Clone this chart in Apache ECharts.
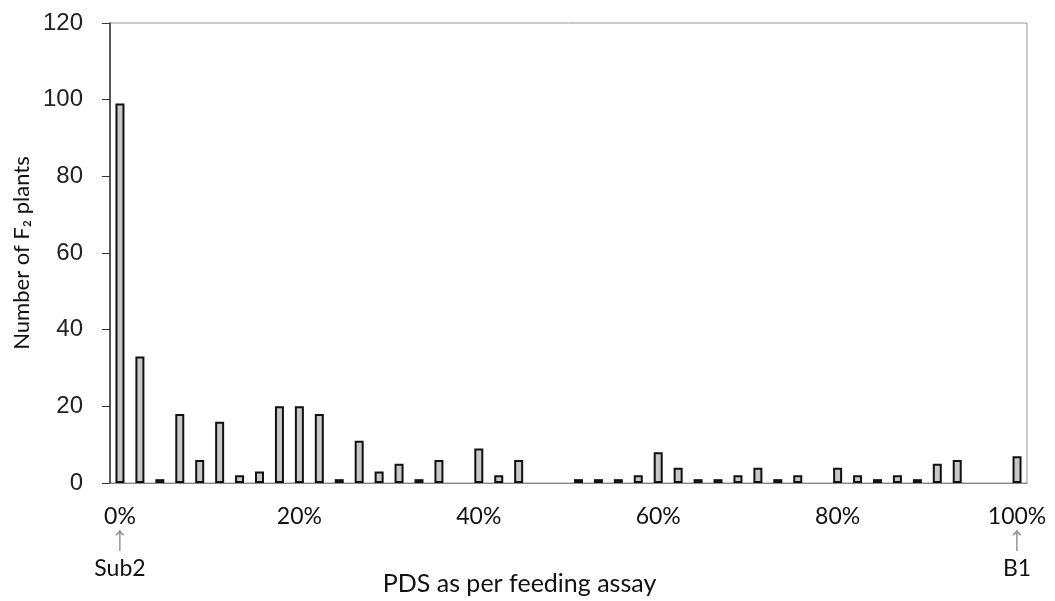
<!DOCTYPE html>
<html>
<head>
<meta charset="utf-8">
<script src="https://cdn.jsdelivr.net/npm/echarts@6/dist/echarts.min.js"></script>
<style>
  html, body { margin: 0; padding: 0; background: #fff; }
  #chart { width: 1055px; height: 601px; }
</style>
</head>
<body>
<div id="chart"></div>
<script>
// PDS (%) bins, one every 100/45 %
const categories = [0, 2.2, 4.4, 6.7, 8.9, 11.1, 13.3, 15.6, 17.8, 20, 22.2, 24.4, 26.7, 28.9, 31.1, 33.3,
  35.6, 37.8, 40, 42.2, 44.4, 46.7, 48.9, 51.1, 53.3, 55.6, 57.8, 60, 62.2, 64.4, 66.7, 68.9, 71.1, 73.3,
  75.6, 77.8, 80, 82.2, 84.4, 86.7, 88.9, 91.1, 93.3, 95.6, 97.8, 100];

// number of F2 plants per bin
const plants = [99, 33, 1, 18, 6, 16, 2, 3, 20, 20, 18, 1, 11, 3, 5, 1, 6, 0, 9, 2, 6, 0, 0, 1, 1, 1, 2, 8,
  4, 1, 1, 2, 4, 1, 2, 0, 4, 2, 1, 2, 1, 5, 6, 0, 0, 7];

// parents marked under the end ticks
const parents = { 0: 'Sub2', 45: 'B1' };

const yTicks = { min: 0, max: 120, interval: 20 };

const chart = echarts.init(document.getElementById('chart'));

chart.setOption({
  animation: false,
  grid: {
    left: 110,
    right: 28,
    top: 23,
    bottom: 118,
    outerBoundsMode: 'none',
    containLabel: false,
    show: true,
    borderColor: '#999',
    borderWidth: 1
  },
  xAxis: {
    type: 'category',
    data: categories,
    boundaryGap: true,
    name: 'PDS as per feeding assay',
    nameLocation: 'middle',
    nameGap: 88,
    nameMoveOverlap: false,
    nameTextStyle: { fontFamily: 'Lato', fontSize: 25, color: '#111', padding: [0, 98, 0, 0] },
    axisLine: { lineStyle: { color: '#888', width: 1 } },
    axisTick: { alignWithLabel: true, interval: 8, length: 19, lineStyle: { color: '#888' } },
    axisLabel: {
      interval: 8,
      margin: 22,
      formatter: function (value, index) {
        let s = '{p|' + value + '%}';
        if (parents[index]) {
          s += '\n{arr|↑}\n{q|' + parents[index] + '}';
        }
        return s;
      },
      rich: {
        p: { fontFamily: 'Lato', fontSize: 23, color: '#111', lineHeight: 24 },
        arr: { fontFamily: 'Liberation Sans', fontSize: 36, color: '#999', lineHeight: 22 },
        q: { fontFamily: 'Lato', fontSize: 23, color: '#111', lineHeight: 36 }
      }
    },
    splitLine: { show: false }
  },
  yAxis: {
    type: 'value',
    min: yTicks.min,
    max: yTicks.max,
    interval: yTicks.interval,
    name: 'Number of F\u2082 plants',
    nameLocation: 'middle',
    nameGap: 77,
    nameMoveOverlap: false,
    nameTextStyle: { fontFamily: 'Lato', fontSize: 22, color: '#111' },
    axisLine: { show: true, lineStyle: { color: '#333', width: 1.5 } },
    axisTick: { show: true, length: 8, lineStyle: { color: '#333' } },
    axisLabel: {
      margin: 27,
      fontFamily: 'Liberation Sans',
      fontSize: 24,
      color: '#222'
    },
    splitLine: { show: false }
  },
  series: [
    {
      type: 'bar',
      // empty bins draw no bar
      data: plants.map(v => (v === 0 ? '-' : v)),
      barWidth: 9,
      itemStyle: {
        color: '#c8c8c8',
        borderColor: '#111',
        borderWidth: 2
      }
    }
  ]
});
</script>
</body>
</html>
